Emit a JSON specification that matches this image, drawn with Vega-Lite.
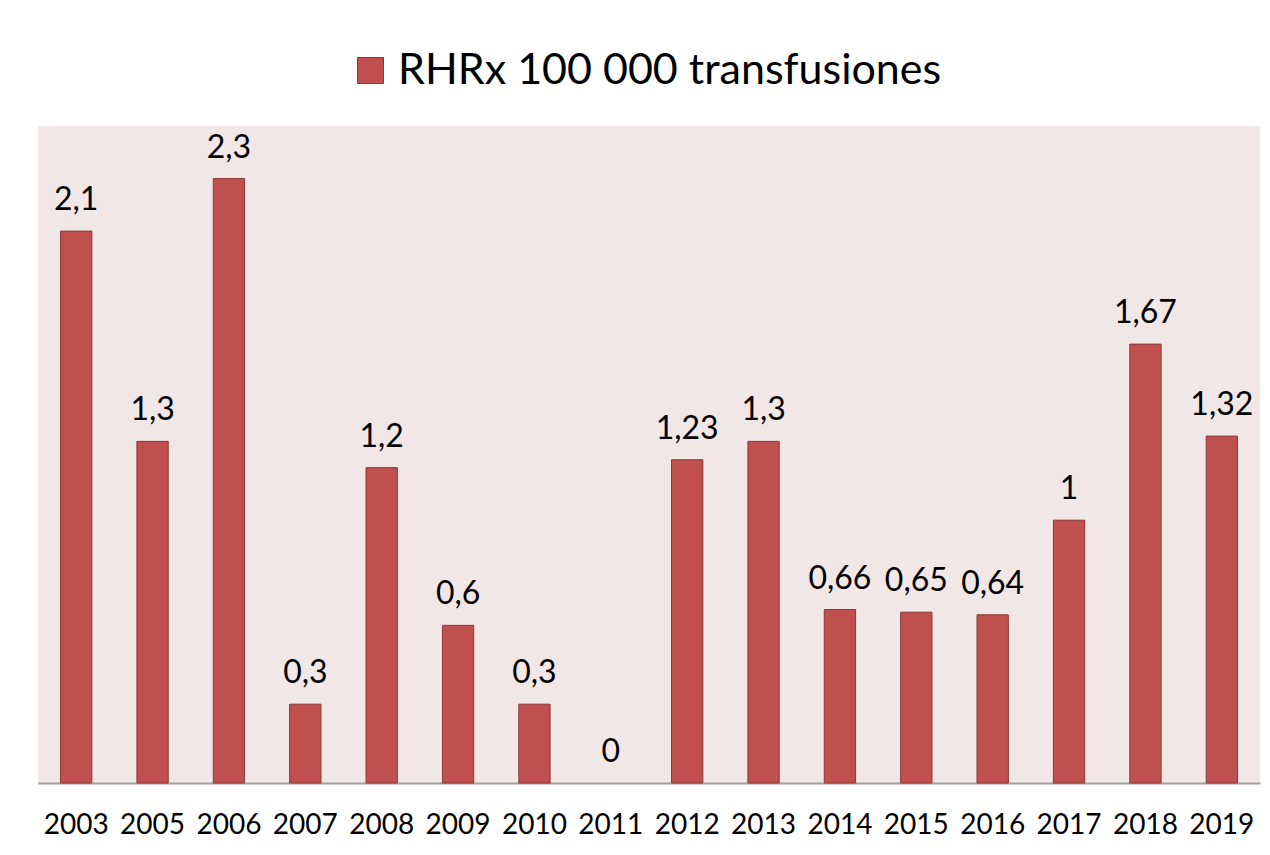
{
  "$schema": "https://vega.github.io/schema/vega-lite/v6.json",
  "autosize": {"type": "none"},
  "padding": {"left": 38, "top": 126, "right": 10, "bottom": 72},
  "width": 1222,
  "height": 657,
  "background": "white",
  "config": {
    "locale": {"number": {"decimal": ",", "thousands": ".", "grouping": [3], "currency": ["", " €"]}},
    "view": {"fill": "#F2E7E7", "stroke": null},
    "font": "Lato"
  },
  "data": {
    "values": [
      {"year": "2003", "value": 2.1},
      {"year": "2005", "value": 1.3},
      {"year": "2006", "value": 2.3},
      {"year": "2007", "value": 0.3},
      {"year": "2008", "value": 1.2},
      {"year": "2009", "value": 0.6},
      {"year": "2010", "value": 0.3},
      {"year": "2011", "value": 0},
      {"year": "2012", "value": 1.23},
      {"year": "2013", "value": 1.3},
      {"year": "2014", "value": 0.66},
      {"year": "2015", "value": 0.65},
      {"year": "2016", "value": 0.64},
      {"year": "2017", "value": 1},
      {"year": "2018", "value": 1.67},
      {"year": "2019", "value": 1.32}
    ]
  },
  "encoding": {
    "x": {
      "field": "year",
      "type": "ordinal",
      "scale": {"paddingInner": 0.59, "paddingOuter": 0.295},
      "axis": {
        "title": null,
        "labelAngle": 0,
        "labelFontSize": 28,
        "labelColor": "#000000",
        "labelPadding": 28,
        "ticks": false,
        "domainColor": "#A0A0A0",
        "domainWidth": 2,
        "grid": false
      }
    },
    "y": {
      "field": "value",
      "type": "quantitative",
      "scale": {"domain": [0, 2.5], "nice": false},
      "axis": null
    }
  },
  "layer": [
    {
      "mark": {"type": "bar", "stroke": "#8C3836", "strokeWidth": 1},
      "encoding": {
        "strokeOpacity": {"condition": {"test": "datum.value == 0", "value": 0}, "value": 1},
        "color": {
          "datum": "RHRx 100 000 transfusiones",
          "type": "nominal",
          "scale": {"range": ["#C0504D"]},
          "legend": {
            "title": null,
            "orient": "none",
            "legendX": 311,
            "legendY": -77,
            "symbolType": "square",
            "symbolSize": 676,
            "symbolStrokeColor": "#8C3836",
            "symbolStrokeWidth": 1,
            "labelFontSize": 43,
            "labelColor": "#000000",
            "labelOffset": 6,
            "labelLimit": 900
          }
        }
      }
    },
    {
      "mark": {"type": "text", "baseline": "alphabetic", "dy": -21, "fontSize": 32, "color": "#000000"},
      "encoding": {
        "text": {"field": "value", "type": "quantitative", "format": "~g"}
      }
    }
  ]
}
